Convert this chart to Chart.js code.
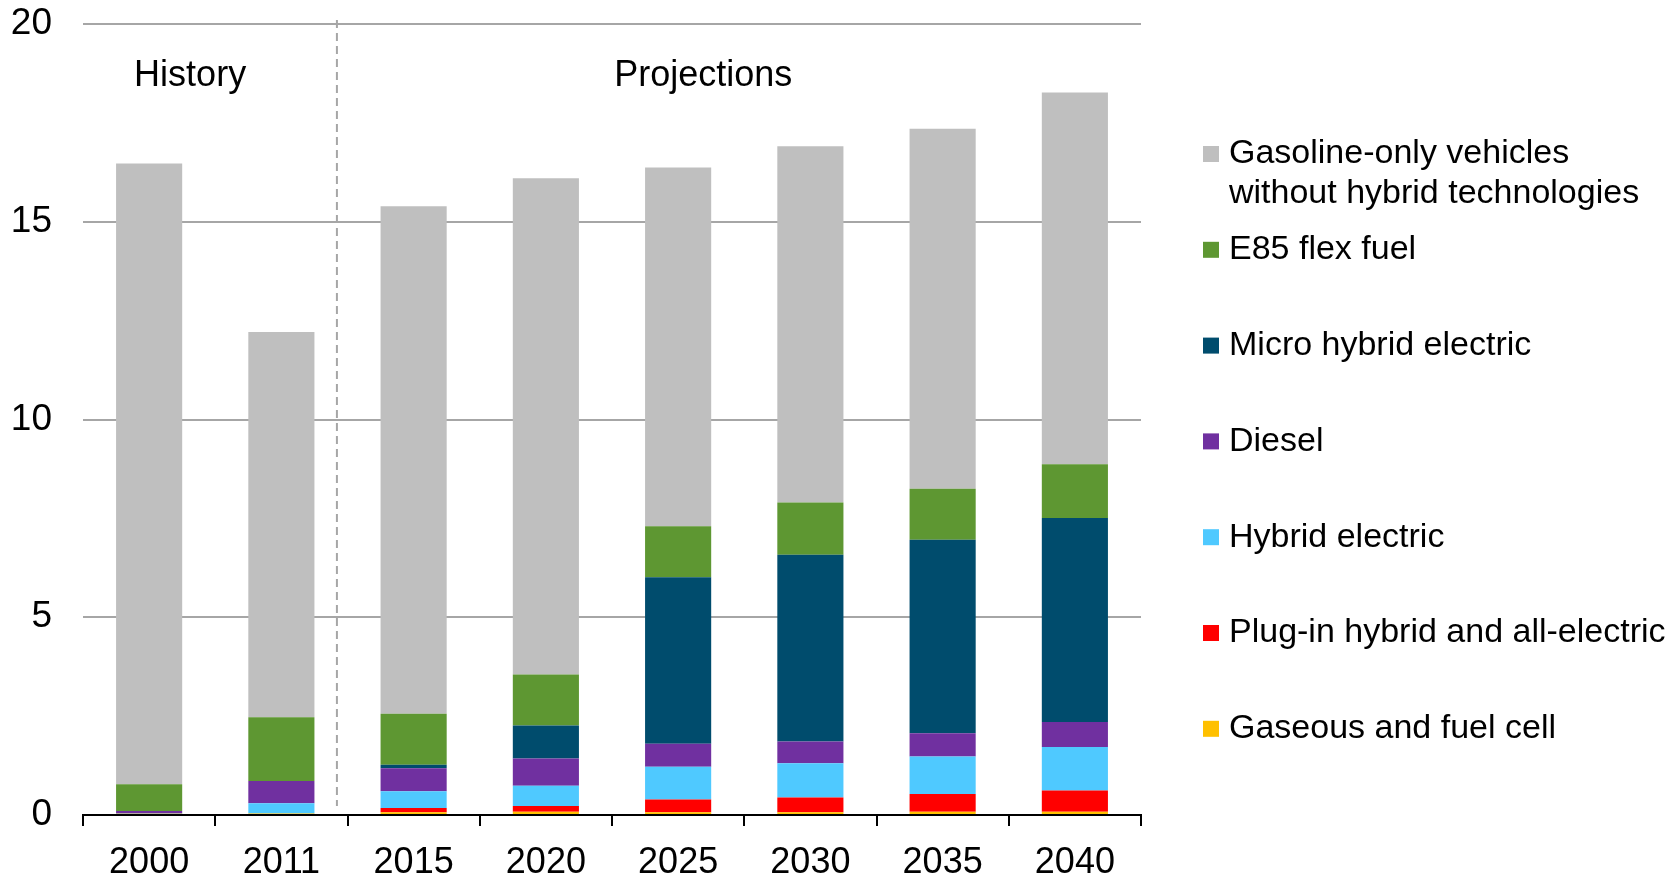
<!DOCTYPE html>
<html>
<head>
<meta charset="utf-8">
<title>Light-duty vehicle sales by technology</title>
<script src="https://cdn.jsdelivr.net/npm/chart.js@4"></script>
<style>
  body { margin: 0; background: #fff; }
  #wrap { width: 1671px; height: 875px; }
</style>
</head>
<body>
<div id="wrap"><canvas id="salesChart" width="1671" height="875"></canvas></div>
<script>
//Data (million vehicles)
const years = ["2000", "2011", "2015", "2020", "2025", "2030", "2035", "2040"];
const gaseous  = [0.03, 0.04, 0.07, 0.08, 0.07, 0.07, 0.08, 0.08];
const plugin   = [0.00, 0.00, 0.11, 0.15, 0.32, 0.37, 0.45, 0.54];
const hybrid   = [0.01, 0.26, 0.42, 0.51, 0.83, 0.87, 0.95, 1.10];
const diesel   = [0.06, 0.56, 0.58, 0.69, 0.58, 0.55, 0.59, 0.63];
const micro    = [0.00, 0.00, 0.09, 0.83, 4.21, 4.72, 4.89, 5.16];
const e85      = [0.68, 1.61, 1.29, 1.29, 1.29, 1.32, 1.29, 1.36];
const gasoline = [15.69, 9.74, 12.83, 12.55, 9.07, 9.01, 9.10, 9.40];

const yTicks = [0, 5, 10, 15, 20];

document.addEventListener("DOMContentLoaded", () => {
    const FONT = '"Liberation Sans", Arial, sans-serif';
    const canvas = document.getElementById("salesChart");

    //Stacked bottom to top
    const series = [
        { label: ["Gaseous and fuel cell"], data: gaseous, color: "#ffc000" },
        { label: ["Plug-in hybrid and all-electric"], data: plugin, color: "#ff0000" },
        { label: ["Hybrid electric"], data: hybrid, color: "#4fc9ff" },
        { label: ["Diesel"], data: diesel, color: "#7030a0" },
        { label: ["Micro hybrid electric"], data: micro, color: "#004c6d" },
        { label: ["E85 flex fuel"], data: e85, color: "#5e9732" },
        { label: ["Gasoline-only vehicles", "without hybrid technologies"], data: gasoline, color: "#bfbfbf" }
    ];

    //History / Projections divider and headings
    const annotations = {
        id: "annotations",
        afterDatasetsDraw(chart) {
            const ctx = chart.ctx;
            const x = chart.scales.x;
            const area = chart.chartArea;
            const divX = x.getPixelForValue(1.42);

            ctx.save();
            ctx.strokeStyle = "#a6a6a6";
            ctx.lineWidth = 2;
            ctx.setLineDash([8, 5]);
            ctx.beginPath();
            ctx.moveTo(divX, area.top - 4);
            ctx.lineTo(divX, area.bottom - 9);
            ctx.stroke();

            ctx.fillStyle = "#000";
            ctx.font = "36px " + FONT;
            ctx.textAlign = "center";
            ctx.textBaseline = "middle";
            ctx.fillText("History", x.getPixelForValue(0.31), area.top + 52);
            ctx.fillText("Projections", x.getPixelForValue(4.19), area.top + 52);
            ctx.restore();
        }
    };

    //Legend on the right, top item first
    const sideLegend = {
        id: "sideLegend",
        afterDraw(chart) {
            const ctx = chart.ctx;
            const items = chart.data.datasets.slice().reverse();
            ctx.save();
            ctx.font = "34px " + FONT;
            ctx.textBaseline = "middle";
            ctx.textAlign = "left";
            items.forEach((ds, i) => {
                const cy = 154 + i * 95.8;
                ctx.fillStyle = ds.backgroundColor;
                ctx.fillRect(1203, cy - 8, 16, 16);
                ctx.fillStyle = "#000";
                ds.legendLines.forEach((line, j) => {
                    ctx.fillText(line, 1229, cy + j * 39.5);
                });
            });
            ctx.restore();
        }
    };

    new Chart(canvas, {
        type: "bar",
        data: {
            labels: years,
            datasets: series.map(s => ({
                label: s.label.join(" "),
                legendLines: s.label,
                data: s.data,
                backgroundColor: s.color,
                borderWidth: 0,
                barPercentage: 1,
                categoryPercentage: 0.5
            }))
        },
        options: {
            responsive: false,
            animation: false,
            layout: { padding: { top: 24, right: 530, left: 0, bottom: 0 } },
            plugins: {
                legend: { display: false },
                tooltip: { enabled: false }
            },
            scales: {
                x: {
                    stacked: true,
                    afterFit: (scale) => { scale.height = 60; },
                    border: { display: true, color: "#000", width: 2 },
                    grid: {
                        offset: true,
                        drawOnChartArea: false,
                        drawTicks: true,
                        tickLength: 11,
                        color: "#000",
                        lineWidth: 2
                    },
                    ticks: {
                        color: "#000",
                        padding: 15,
                        maxRotation: 0,
                        font: { family: FONT, size: 36 }
                    }
                },
                y: {
                    stacked: true,
                    min: 0,
                    max: 20,
                    afterFit: (scale) => {
                        scale.width = 83;
                        scale.paddingTop = 0;
                        scale.paddingBottom = 0;
                    },
                    afterBuildTicks: (scale) => { scale.ticks = yTicks.map(v => ({ value: v })); },
                    border: { display: false },
                    grid: {
                        color: "#a6a6a6",
                        lineWidth: 2,
                        drawTicks: false
                    },
                    ticks: {
                        color: "#000",
                        padding: 31,
                        font: { family: FONT, size: 37 }
                    }
                }
            }
        },
        plugins: [annotations, sideLegend]
    });
});
</script>
</body>
</html>
